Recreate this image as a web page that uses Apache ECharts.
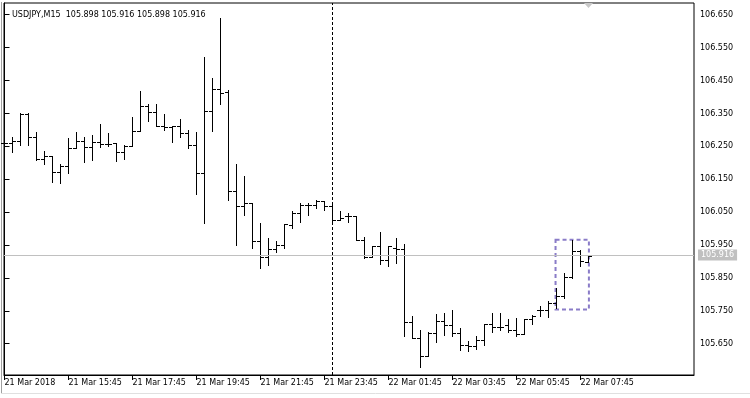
<!DOCTYPE html>
<html>
<head>
<meta charset="utf-8">
<script src="https://cdn.jsdelivr.net/npm/echarts@6/dist/echarts.min.js"></script>
<style>
html,body{margin:0;padding:0;background:#fff;}
#chart{width:750px;height:398px;}
</style>
</head>
<body>
<div id="chart"></div>
<script>
// ---- data (USDJPY, M15, 21 Mar 2018 13:45 -> 22 Mar 2018 08:00) ----
const symbol = 'USDJPY,M15';
const open  = [106.260,106.260,106.266,106.348,106.276,106.210,106.218,106.171,106.188,106.242,
               106.264,106.246,106.262,106.256,106.260,106.230,106.248,106.296,106.372,106.353,
               106.309,106.306,106.309,106.289,106.254,106.168,106.357,106.424,106.414,106.112,
               106.066,106.077,105.962,105.913,105.937,105.950,106.009,106.046,106.071,106.071,
               106.083,106.066,106.024,106.036,106.038,105.963,105.913,105.947,105.902,105.939,
               105.935,105.714,105.667,105.610,105.681,105.718,105.704,105.681,105.645,105.643,
               105.659,105.708,105.698,105.704,105.689,105.677,105.724,105.750,105.750,105.771,
               105.795,105.850,105.929,105.898];
const high  = [106.275,106.276,106.349,106.349,106.291,106.234,106.220,106.195,106.274,106.292,
               106.276,106.284,106.315,106.290,106.260,106.254,106.339,106.418,106.378,106.378,
               106.347,106.309,106.331,106.299,106.292,106.521,106.455,106.637,106.420,106.195,
               106.159,106.077,106.016,105.970,105.962,106.011,106.051,106.077,106.075,106.085,
               106.083,106.071,106.052,106.046,106.038,105.973,105.947,105.987,105.947,105.969,
               105.953,105.732,105.691,105.683,105.740,105.742,105.750,105.695,105.657,105.671,
               105.710,105.742,105.742,105.724,105.726,105.724,105.736,105.762,105.779,105.817,
               105.864,105.963,105.933,105.916];
const low   = [106.245,106.231,106.254,106.252,106.208,106.195,106.141,106.136,106.167,106.242,
               106.201,106.207,106.246,106.248,106.203,106.209,106.248,106.294,106.325,106.309,
               106.299,106.262,106.276,106.244,106.104,106.015,106.294,106.378,106.084,105.950,
               106.039,105.940,105.879,105.887,105.928,105.938,106.001,106.018,106.040,106.060,
               106.056,106.016,106.024,106.018,105.963,105.908,105.913,105.890,105.884,105.894,
               105.671,105.665,105.578,105.610,105.655,105.675,105.671,105.629,105.625,105.631,
               105.645,105.685,105.691,105.685,105.671,105.677,105.708,105.732,105.730,105.756,
               105.787,105.847,105.884,105.898];
const close = [106.260,106.266,106.348,106.276,106.210,106.218,106.171,106.188,106.242,106.264,
               106.246,106.262,106.256,106.256,106.230,106.248,106.296,106.372,106.353,106.309,
               106.306,106.309,106.289,106.254,106.168,106.357,106.424,106.410,106.112,106.066,
               106.077,105.962,105.913,105.937,105.950,106.011,106.046,106.071,106.071,106.083,
               106.066,106.024,106.030,106.038,105.963,105.913,105.947,105.902,105.945,105.935,
               105.714,105.667,105.610,105.681,105.718,105.704,105.681,105.645,105.643,105.659,
               105.708,105.698,105.700,105.689,105.677,105.724,105.734,105.750,105.771,105.795,
               105.850,105.929,105.900,105.916];
const bidPrice = 105.916;
const separatorBar = 41;              // 22 Mar 00:00 period separator
const boxBars = [69, 73];             // dashed rectangle range
const boxPrices = [105.966, 105.754];
const xTickBars = [0, 8, 16, 24, 32, 40, 48, 56, 64, 72];
const xTickLabels = ['21 Mar 2018','21 Mar 15:45','21 Mar 17:45','21 Mar 19:45','21 Mar 21:45',
                     '21 Mar 23:45','22 Mar 01:45','22 Mar 03:45','22 Mar 05:45','22 Mar 07:45'];
const yTicks = [105.650,105.750,105.850,105.950,106.050,106.150,106.250,106.350,106.450,106.550,106.650];

const FONT = 'DejaVu Sans';
const FS = 8;
const rows = open.map((o, i) => [i, o, high[i], low[i], close[i]]);
const last = rows.length - 1;

const chart = echarts.init(document.getElementById('chart'), null, {renderer: 'canvas'});
chart.setOption({
  animation: false,
  backgroundColor: '#ffffff',
  title: {
    text: symbol + '  ' + [open[last], high[last], low[last], close[last]].map(v => v.toFixed(3)).join(' '),
    left: 7, top: 6,
    textStyle: {fontFamily: FONT, fontSize: FS, fontWeight: 'normal', color: '#000'}
  },
  grid: {left: 4, right: 56, top: 3, bottom: 23, show: true, borderColor: '#000', borderWidth: 1, backgroundColor: 'transparent'},
  xAxis: {
    type: 'value', min: -0.0625, max: 86.1875,
    splitLine: {show: false},
    axisLine: {show: true, lineStyle: {color: '#000', width: 1}},
    axisTick: {show: true, length: 5, inside: false, customValues: xTickBars, lineStyle: {color: '#000'}},
    axisLabel: {
      customValues: xTickBars, align: 'left', margin: 4,
      fontFamily: FONT, fontSize: FS, color: '#000',
      formatter: v => xTickLabels[xTickBars.indexOf(Math.round(v))] || ''
    }
  },
  yAxis: {
    type: 'value', position: 'right', min: 105.555, max: 106.6856, scale: true,
    splitLine: {show: false},
    axisLine: {show: true, lineStyle: {color: '#000', width: 1}},
    axisTick: {show: true, length: 5, inside: false, customValues: yTicks, lineStyle: {color: '#000'}},
    axisLabel: {
      customValues: yTicks, margin: 6,
      fontFamily: FONT, fontSize: FS, color: '#000',
      formatter: v => v.toFixed(3)
    }
  },
  series: [
    {
      name: 'bid', type: 'line', data: [], z: 1, silent: true,
      markLine: {
        silent: true, symbol: ['none', 'none'], animation: false,
        data: [
          {yAxis: bidPrice, lineStyle: {color: '#c0c0c0', type: 'solid', width: 1},
           label: {show: true, position: 'end', distance: 4, formatter: bidPrice.toFixed(3),
                   backgroundColor: '#c0c0c0', color: '#ffffff', padding: [2, 3, 1, 3],
                   fontFamily: FONT, fontSize: FS}},
          {xAxis: separatorBar, lineStyle: {color: '#000', type: [3, 2], width: 1},
           label: {show: false}}
        ]
      }
    },
    {
      name: 'box', type: 'line', data: [], z: 4, silent: true,
      markArea: {
        silent: true,
        itemStyle: {color: 'rgba(0,0,0,0)', borderColor: '#8a7cc8', borderWidth: 2, borderType: [4, 3]},
        data: [[{xAxis: boxBars[0] - 0.12, yAxis: boxPrices[0]}, {xAxis: boxBars[1] + 0.05, yAxis: boxPrices[1]}]]
      }
    },
    {
      name: symbol, type: 'custom', z: 3, data: rows,
      encode: {x: 0, y: [1, 2, 3, 4]},
      renderItem: function (params, api) {
        const x = api.value(0);
        const pO = api.coord([x, api.value(1)]);
        const pH = api.coord([x, api.value(2)]);
        const pL = api.coord([x, api.value(3)]);
        const pC = api.coord([x, api.value(4)]);
        const cx = Math.floor(pH[0]);
        const yh = Math.floor(pH[1]);
        const yl = Math.floor(pL[1]);
        return {
          type: 'group',
          children: [
            {type: 'rect', shape: {x: cx, y: yh, width: 1, height: Math.max(1, yl - yh + 1)}, style: {fill: '#000'}},
            {type: 'rect', shape: {x: cx - 3, y: Math.floor(pO[1]), width: 3, height: 1}, style: {fill: '#000'}},
            {type: 'rect', shape: {x: cx + 1, y: Math.floor(pC[1]), width: 3, height: 1}, style: {fill: '#000'}}
          ]
        };
      }
    }
  ],
  graphic: [
    {type: 'line', shape: {x1: 1.5, y1: 2, x2: 1.5, y2: 394}, style: {stroke: '#a0a0a0', lineWidth: 1}, silent: true},
    {type: 'line', shape: {x1: 1, y1: 393.5, x2: 750, y2: 393.5}, style: {stroke: '#e0e0e0', lineWidth: 1}, silent: true},
    {type: 'polygon', shape: {points: [[584, 3], [593, 3], [588.5, 8]]}, style: {fill: '#c8c8c8'}, silent: true}
  ]
});
</script>
</body>
</html>
